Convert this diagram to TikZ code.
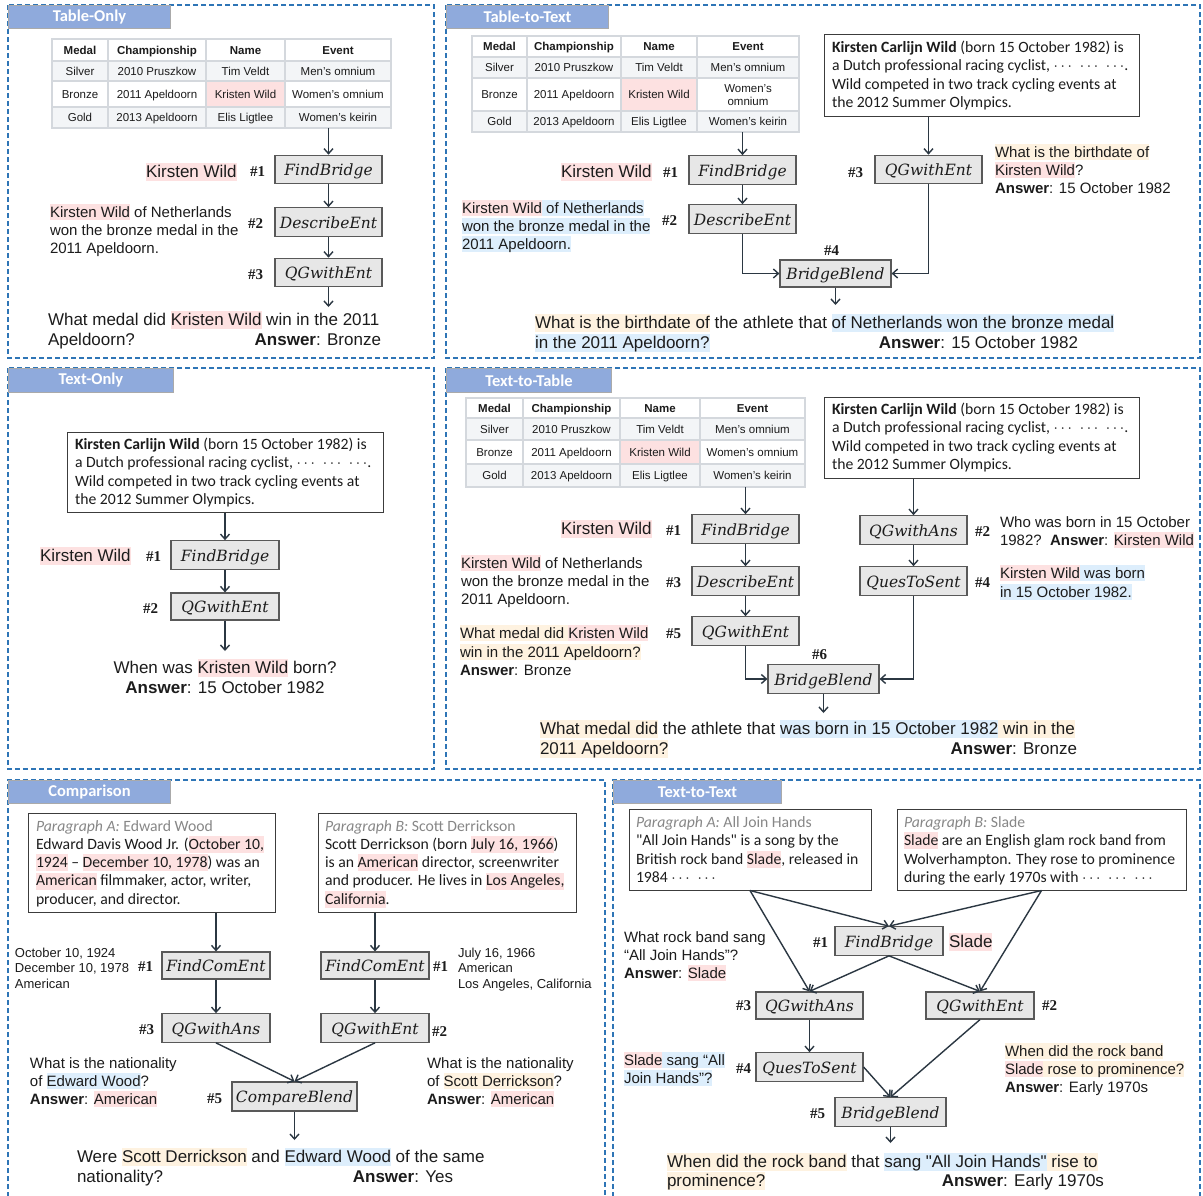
\RequirePackage{fix-cm}
\documentclass[tikz,border=0pt]{standalone}
\usepackage{fontspec}
\usetikzlibrary{arrows.meta}
\newfontfamily\arial{Liberation Sans}
\newfontfamily\calib{Carlito}
\newfontfamily\opfont{DejaVu Serif}
\newfontfamily\numfont{Liberation Serif}
\newcommand\FS[1]{\fontsize{#1}{#1}\selectfont}
\definecolor{framec}{RGB}{46,117,182}
\definecolor{tabc}{RGB}{143,170,220}
\definecolor{tabdraw}{RGB}{170,170,170}
\definecolor{opfill}{RGB}{231,231,231}
\definecolor{opdraw}{RGB}{89,89,89}
\definecolor{boxdraw}{RGB}{60,60,60}
\definecolor{arrowc}{RGB}{43,55,66}
\definecolor{gridc}{RGB}{212,216,221}
\definecolor{rowgray}{RGB}{243,245,247}
\definecolor{hlpink}{RGB}{253,225,225}
\definecolor{hlblue}{RGB}{221,238,252}
\definecolor{hlorange}{RGB}{254,242,224}
\definecolor{graytext}{RGB}{135,135,135}
\definecolor{textc}{RGB}{28,28,28}
\newcommand\HL[2]{\begingroup\setlength{\fboxsep}{0pt}\colorbox{#1}{\rule[-0.23em]{0pt}{1.08em}#2}\endgroup}
\newcommand\HLp[1]{\HL{hlpink}{#1}}
\newcommand\HLb[1]{\HL{hlblue}{#1}}
\newcommand\HLo[1]{\HL{hlorange}{#1}}
\newcommand\DOTS{$\cdots$\enspace$\cdots$\enspace$\cdots$}
\newcommand\Rows[5]{\def\RowA{#1}\def\RowB{#2}\def\RowC{#3}\def\RowD{#4}\def\RowE{#5}}
\newcommand\BronzeEvent{Women’s omnium}
\newcommand\Tbl[6]{%
\fill[rowgray] (#2,\RowB) rectangle (#6,\RowC);
\fill[rowgray] (#2,\RowD) rectangle (#6,\RowE);
\fill[hlpink] (#4,\RowC) rectangle (#5,\RowD);
\draw[gridline] (#2,\RowA) rectangle (#6,\RowE);
\draw[gridline] (#2,\RowB) -- (#6,\RowB) (#2,\RowC) -- (#6,\RowC) (#2,\RowD) -- (#6,\RowD)
  (#3,\RowA) -- (#3,\RowE) (#4,\RowA) -- (#4,\RowE) (#5,\RowA) -- (#5,\RowE);
\node[hcell] (#1h1) at ({(#2+#3)/2},{(\RowA+\RowB)/2+4}) {Medal};
\node[hcell] (#1h2) at ({(#3+#4)/2},{(\RowA+\RowB)/2+4}) {Championship};
\node[hcell] (#1h3) at ({(#4+#5)/2},{(\RowA+\RowB)/2+4}) {Name};
\node[hcell] (#1h4) at ({(#5+#6)/2},{(\RowA+\RowB)/2+4}) {Event};
\node[cell] (#1a1) at ({(#2+#3)/2},{(\RowB+\RowC)/2+4}) {Silver};
\node[cell] (#1a2) at ({(#3+#4)/2},{(\RowB+\RowC)/2+4}) {2010 Pruszkow};
\node[cell] (#1a3) at ({(#4+#5)/2},{(\RowB+\RowC)/2+4}) {Tim Veldt};
\node[cell] (#1a4) at ({(#5+#6)/2},{(\RowB+\RowC)/2+4}) {Men’s omnium};
\node[cell] (#1b1) at ({(#2+#3)/2},{(\RowC+\RowD)/2+4}) {Bronze};
\node[cell] (#1b2) at ({(#3+#4)/2},{(\RowC+\RowD)/2+4}) {2011 Apeldoorn};
\node[cell] (#1b3) at ({(#4+#5)/2},{(\RowC+\RowD)/2+4}) {Kristen Wild};
\node[cell] (#1b4) at ({(#5+#6)/2},{(\RowC+\RowD)/2+4}) {\BronzeEvent};
\node[cell] (#1c1) at ({(#2+#3)/2},{(\RowD+\RowE)/2+4}) {Gold};
\node[cell] (#1c2) at ({(#3+#4)/2},{(\RowD+\RowE)/2+4}) {2013 Apeldoorn};
\node[cell] (#1c3) at ({(#4+#5)/2},{(\RowD+\RowE)/2+4}) {Elis Ligtlee};
\node[cell] (#1c4) at ({(#5+#6)/2},{(\RowD+\RowE)/2+4}) {Women’s keirin};
}
\tikzset{
 txt/.style={inner sep=0pt, outer sep=0pt, anchor=base west, text=textc},
 qtext/.style={txt, font=\arial\FS{17}},
 side/.style={txt, font=\arial\FS{15}},
 smalltxt/.style={txt, font=\arial\FS{13}},
 paratxt/.style={txt, font=\calib\FS{15.7}},
 numlab/.style={txt, font=\numfont\bfseries\FS{15}},
 opbox/.style={draw=opdraw, fill=opfill, line width=1.2pt, minimum width=107pt, minimum height=28.5pt, inner sep=0pt, font=\opfont\itshape\FS{15.5}, text height=13pt, text depth=1pt, text=textc},
 parabox/.style={draw=boxdraw, line width=1pt, inner sep=0pt},
 frm/.style={draw=framec, line width=1.3pt, dash pattern=on 5pt off 3pt},
 tabbox/.style={fill=tabc, draw=tabdraw, line width=1pt, inner sep=0pt, anchor=north west, font=\calib\bfseries\FS{16.5}, text=white},
 arrw/.style={draw=arrowc, line width=1.4pt, -{Straight Barb[length=5pt,width=9pt]}},
 gridline/.style={draw=gridc, line width=1.3pt},
 cell/.style={inner sep=0pt, anchor=base, font=\arial\FS{11.5}, text=textc},
 hcell/.style={cell, font=\arial\bfseries\FS{11.5}},
}
\begin{document}
\begin{tikzpicture}[x=1pt,y=-1pt]
\path[use as bounding box] (0,0) rectangle (1203,1195);
\fill[white] (0,0) rectangle (1203,1195);
%================ Panel 1: Table-Only
\draw[frm] (8,5) rectangle (434,358);
\node[tabbox, minimum width=162pt, minimum height=23pt] (tab1) at (8,5) {Table-Only};
\Rows{39}{61}{81}{107}{128}
\Tbl{ta}{52}{108}{206}{285}{391}
\coordinate (ta-bot) at (328.5,128);
\node[opbox] (p1fb) at (328.5,169.5) {FindBridge};
\node[opbox] (p1de) at (328.5,222) {DescribeEnt};
\node[opbox] (p1qg) at (328.5,272.5) {QGwithEnt};
\coordinate (p1out) at (328.5,307);
\draw[arrw] (ta-bot) -- (p1fb.north);
\draw[arrw] (p1fb.south) -- (p1de.north);
\draw[arrw] (p1de.south) -- (p1qg.north);
\draw[arrw] (p1qg.south) -- (p1out);
\node[qtext] (p1kw) at (146,177) {\HLp{Kirsten Wild}};
\node[numlab] (p1n1) at (250,176) {\#1};
\node[numlab] (p1n2) at (248,228) {\#2};
\node[numlab] (p1n3) at (248,279) {\#3};
\node[side] (p1s1) at (50,217) {\HLp{Kirsten Wild} of Netherlands};
\node[side] (p1s2) at (50,235) {won the bronze medal in the};
\node[side] (p1s3) at (50,253) {2011 Apeldoorn.};
\node[qtext] (p1q1) at (48,325) {What medal did \HLp{Kristen Wild} win in the 2011};
\node[qtext] (p1q2) at (48,345) {Apeldoorn?};
\node[qtext, anchor=base east] (p1ans) at (381,345) {\textbf{Answer}: Bronze};
%================ Panel 2: Table-to-Text
\draw[frm] (446,5) rectangle (1200,358);
\node[tabbox, minimum width=162pt, minimum height=23pt] (tab2) at (446,5) {Table-to-Text};
\Rows{36}{57}{78}{111}{132}
\renewcommand\BronzeEvent{}
\Tbl{tb}{472}{527}{621}{697}{799}
\node[cell] (tb-ev1) at (748,92) {Women’s};
\node[cell] (tb-ev2) at (748,105) {omnium};
\renewcommand\BronzeEvent{Women’s omnium}
\coordinate (tb-bot) at (742.5,132);
\node[parabox, minimum width=315pt, minimum height=82pt] (p2box) at (981.5,75) {};
\node[paratxt] (p2b1) at (832,52) {\textbf{Kirsten Carlijn Wild} (born 15 October 1982) is};
\node[paratxt] (p2b2) at (832,70.5) {a Dutch professional racing cyclist, \DOTS.};
\node[paratxt] (p2b3) at (832,89) {Wild competed in two track cycling events at};
\node[paratxt] (p2b4) at (832,107.5) {the 2012 Summer Olympics.};
\node[opbox] (p2fb) at (742.5,170) {FindBridge};
\node[opbox] (p2de) at (742.5,219) {DescribeEnt};
\node[opbox] (p2qg) at (928.5,169.5) {QGwithEnt};
\node[opbox, minimum width=111pt, minimum height=27pt] (p2bb) at (835.5,273.5) {BridgeBlend};
\coordinate (p2out) at (835.5,305);
\draw[arrw] (tb-bot) -- (p2fb.north);
\draw[arrw] (p2fb.south) -- (p2de.north);
\draw[arrw] (p2de.south) |- (p2bb.west);
\draw[arrw] (p2qg.south) |- (p2bb.east);
\draw[arrw] (p2qg.north |- p2box.south) -- (p2qg.north);
\draw[arrw] (p2bb.south) -- (p2out);
\node[qtext] (p2kw) at (561,177) {\HLp{Kirsten Wild}};
\node[numlab] (p2n1) at (663,177) {\#1};
\node[numlab] (p2n2) at (662,225) {\#2};
\node[numlab] (p2n3) at (848,177) {\#3};
\node[numlab] (p2n4) at (824,255) {\#4};
\node[side] (p2s1) at (462,213) {\HLp{Kirsten Wild}\HLb{ of Netherlands}};
\node[side] (p2s2) at (462,231) {\HLb{won the bronze medal in the}};
\node[side] (p2s3) at (462,249) {\HLb{2011 Apeldoorn.}};
\node[side] (p2r1) at (995,157) {\HLo{What is the birthdate of}};
\node[side] (p2r2) at (995,175) {\HLp{Kirsten Wild}?};
\node[side] (p2r3) at (995,193) {\textbf{Answer}: 15 October 1982};
\node[qtext] (p2q1) at (535,328) {\HLo{What is the birthdate of} the athlete that \HLb{of Netherlands won the bronze medal}};
\node[qtext] (p2q2) at (535,348) {\HLb{in the 2011 Apeldoorn?}};
\node[qtext, anchor=base east] (p2ans) at (1078,348) {\textbf{Answer}: 15 October 1982};
%================ Panel 3: Text-Only
\draw[frm] (8,368) rectangle (434,769);
\node[tabbox, minimum width=165pt, minimum height=24pt] (tab3) at (8,368) {Text-Only};
\node[parabox, minimum width=316pt, minimum height=80pt] (p3box) at (225,472) {};
\node[paratxt] (p3b1) at (75,449) {\textbf{Kirsten Carlijn Wild} (born 15 October 1982) is};
\node[paratxt] (p3b2) at (75,467.5) {a Dutch professional racing cyclist, \DOTS.};
\node[paratxt] (p3b3) at (75,486) {Wild competed in two track cycling events at};
\node[paratxt] (p3b4) at (75,504.5) {the 2012 Summer Olympics.};
\node[opbox, minimum width=108pt] (p3fb) at (225,555) {FindBridge};
\node[opbox, minimum width=108pt, minimum height=27pt] (p3qg) at (225,606.5) {QGwithEnt};
\coordinate (p3out) at (225,651);
\draw[arrw] (p3box.south) -- (p3fb.north);
\draw[arrw] (p3fb.south) -- (p3qg.north);
\draw[arrw] (p3qg.south) -- (p3out);
\node[qtext] (p3kw) at (40,561) {\HLp{Kirsten Wild}};
\node[numlab] (p3n1) at (146,561) {\#1};
\node[numlab] (p3n2) at (143,613) {\#2};
\node[qtext, anchor=base] (p3q1) at (225,673) {When was \HLp{Kristen Wild} born?};
\node[qtext, anchor=base] (p3q2) at (225,693) {\textbf{Answer}: 15 October 1982};
%================ Panel 4: Text-to-Table
\draw[frm] (446,368) rectangle (1200,769);
\node[tabbox, minimum width=165pt, minimum height=24pt] (tab4) at (446,368) {Text-to-Table};
\Rows{398}{418}{440}{464}{487}
\Tbl{tc}{466}{523}{620}{700}{805}
\coordinate (tc-bot) at (745.5,487);
\node[parabox, minimum width=315pt, minimum height=81pt] (p4box) at (981.5,437.5) {};
\node[paratxt] (p4b1) at (832,414) {\textbf{Kirsten Carlijn Wild} (born 15 October 1982) is};
\node[paratxt] (p4b2) at (832,432.5) {a Dutch professional racing cyclist, \DOTS.};
\node[paratxt] (p4b3) at (832,451) {Wild competed in two track cycling events at};
\node[paratxt] (p4b4) at (832,469.5) {the 2012 Summer Olympics.};
\node[opbox] (p4fb) at (745.5,529) {FindBridge};
\node[opbox] (p4de) at (745.5,581) {DescribeEnt};
\node[opbox] (p4qg) at (745.5,631) {QGwithEnt};
\node[opbox, minimum width=111pt] (p4bb) at (823.5,679) {BridgeBlend};
\node[opbox] (p4qa) at (913.5,530) {QGwithAns};
\node[opbox] (p4qs) at (913.5,581) {QuesToSent};
\coordinate (p4out) at (823.5,713);
\draw[arrw] (tc-bot) -- (p4fb.north);
\draw[arrw] (p4fb.south) -- (p4de.north);
\draw[arrw] (p4de.south) -- (p4qg.north);
\draw[arrw] (p4qg.south) |- (p4bb.west);
\draw[arrw] (p4qs.south) |- (p4bb.east);
\draw[arrw] (p4qa.north |- p4box.south) -- (p4qa.north);
\draw[arrw] (p4qa.south) -- (p4qs.north);
\draw[arrw] (p4bb.south) -- (p4out);
\node[qtext] (p4kw) at (561,534) {\HLp{Kirsten Wild}};
\node[numlab] (p4n1) at (666,535) {\#1};
\node[numlab] (p4n3) at (666,587) {\#3};
\node[numlab] (p4n5) at (666,638) {\#5};
\node[numlab] (p4n6) at (812,659) {\#6};
\node[numlab] (p4n2) at (975,536) {\#2};
\node[numlab] (p4n4) at (975,587) {\#4};
\node[side] (p4s1) at (461,568) {\HLp{Kirsten Wild} of Netherlands};
\node[side] (p4s2) at (461,586) {won the bronze medal in the};
\node[side] (p4s3) at (461,604) {2011 Apeldoorn.};
\node[side] (p4s4) at (460,638) {\HLo{What medal did }\HLp{Kristen Wild}};
\node[side] (p4s5) at (460,657) {\HLo{win in the 2011 Apeldoorn?}};
\node[side] (p4s6) at (460,675) {\textbf{Answer}: Bronze};
\node[side] (p4r1) at (1000,527) {Who was born in 15 October};
\node[side] (p4r2) at (1000,545) {1982?\ \ \textbf{Answer}: \HLp{Kirsten Wild}};
\node[side] (p4r3) at (1000,578) {\HLp{Kirsten Wild}\HLb{ was born}};
\node[side] (p4r4) at (1000,597) {\HLb{in 15 October 1982.}};
\node[qtext] (p4q1) at (540,734) {\HLo{What medal did} the athlete that \HLb{was born in 15 October 1982}\HLo{ win in the}};
\node[qtext] (p4q2) at (540,754) {\HLo{2011 Apeldoorn?}};
\node[qtext, anchor=base east] (p4ans) at (1077,754) {\textbf{Answer}: Bronze};
%================ Panel 5: Comparison
\draw[frm] (8,1205) -- (8,780) -- (605,780) -- (605,1205);
\node[tabbox, minimum width=162pt, minimum height=23pt] (tab5) at (8,780) {Comparison};
\node[parabox, minimum width=247pt, minimum height=99pt] (p5pa) at (151.5,862.5) {};
\node[paratxt] (p5a1) at (36,831) {\color{graytext}\itshape Paragraph A:\upshape\ Edward Wood};
\node[paratxt] (p5a2) at (36,849.3) {Edward Davis Wood Jr. (\HLp{October 10,}};
\node[paratxt] (p5a3) at (36,867.6) {\HLp{1924} – \HLp{December 10, 1978}) was an};
\node[paratxt] (p5a4) at (36,885.9) {\HLp{American} filmmaker, actor, writer,};
\node[paratxt] (p5a5) at (36,904.2) {producer, and director.};
\node[parabox, minimum width=258pt, minimum height=99pt] (p5pb) at (447,862.5) {};
\node[paratxt] (p5b1) at (325,831) {\color{graytext}\itshape Paragraph B:\upshape\ Scott Derrickson};
\node[paratxt] (p5b2) at (325,849.3) {Scott Derrickson (born \HLp{July 16, 1966})};
\node[paratxt] (p5b3) at (325,867.6) {is an \HLp{American} director, screenwriter};
\node[paratxt] (p5b4) at (325,885.9) {and producer. He lives in \HLp{Los Angeles,}};
\node[paratxt] (p5b5) at (325,904.2) {\HLp{California}.};
\node[opbox, minimum width=108pt, minimum height=27pt] (p5fa) at (216,965.5) {FindComEnt};
\node[opbox, minimum width=108pt, minimum height=27pt] (p5fb) at (375,965.5) {FindComEnt};
\node[opbox, minimum width=108pt] (p5qa) at (216,1028) {QGwithAns};
\node[opbox, minimum width=108pt] (p5qe) at (375,1028) {QGwithEnt};
\node[opbox, minimum width=125pt, minimum height=29pt] (p5cb) at (294.5,1096.5) {CompareBlend};
\coordinate (p5out) at (294.5,1140);
\draw[arrw] (p5fa.north |- p5pa.south) -- (p5fa.north);
\draw[arrw] (p5fb.north |- p5pb.south) -- (p5fb.north);
\draw[arrw] (p5fa.south) -- (p5qa.north);
\draw[arrw] (p5fb.south) -- (p5qe.north);
\draw[arrw] (p5qa.south) -- (p5cb.north);
\draw[arrw] (p5qe.south) -- (p5cb.north);
\draw[arrw] (p5cb.south) -- (p5out);
\node[smalltxt] (p5l1) at (15,957) {October 10, 1924};
\node[smalltxt] (p5l2) at (15,972.5) {December 10, 1978};
\node[smalltxt] (p5l3) at (15,988) {American};
\node[smalltxt] (p5r1) at (458,957) {July 16, 1966};
\node[smalltxt] (p5r2) at (458,972.5) {American};
\node[smalltxt] (p5r3) at (458,988) {Los Angeles, California};
\node[numlab] (p5n1a) at (138,971) {\#1};
\node[numlab] (p5n1b) at (433,971) {\#1};
\node[numlab] (p5n3) at (139,1034) {\#3};
\node[numlab] (p5n2) at (432,1036) {\#2};
\node[numlab] (p5n5) at (207,1103) {\#5};
\node[side] (p5s1) at (30,1068) {What is the nationality};
\node[side] (p5s2) at (30,1086) {of \HLb{Edward Wood}?};
\node[side] (p5s3) at (30,1104) {\textbf{Answer}: \HLp{American}};
\node[side] (p5t1) at (427,1068) {What is the nationality};
\node[side] (p5t2) at (427,1086) {of \HLo{Scott Derrickson}?};
\node[side] (p5t3) at (427,1104) {\textbf{Answer}: \HLp{American}};
\node[qtext] (p5q1) at (77,1162) {Were \HLo{Scott Derrickson} and \HLb{Edward Wood} of the same};
\node[qtext] (p5q2) at (77,1182) {nationality?};
\node[qtext, anchor=base east] (p5ans) at (453,1182) {\textbf{Answer}: Yes};
%================ Panel 6: Text-to-Text
\draw[frm] (613,1205) -- (613,780) -- (1200,780) -- (1200,1205);
\node[tabbox, minimum width=168pt, minimum height=23pt] (tab6) at (613,780) {Text-to-Text};
\node[parabox, minimum width=242pt, minimum height=81pt] (p6pa) at (750,849.5) {};
\node[paratxt] (p6a1) at (636,827) {\color{graytext}\itshape Paragraph A:\upshape\ All Join Hands};
\node[paratxt] (p6a2) at (636,845.5) {"All Join Hands" is a song by the};
\node[paratxt] (p6a3) at (636,864) {British rock band \HLp{Slade}, released in};
\node[paratxt] (p6a4) at (636,882.5) {1984 $\cdots$\enspace$\cdots$};
\node[parabox, minimum width=289pt, minimum height=81pt] (p6pb) at (1041.5,849.5) {};
\node[paratxt] (p6b1) at (904,827) {\color{graytext}\itshape Paragraph B:\upshape\ Slade};
\node[paratxt] (p6b2) at (904,845.5) {\HLp{Slade} are an English glam rock band from};
\node[paratxt] (p6b3) at (904,864) {Wolverhampton. They rose to prominence};
\node[paratxt] (p6b4) at (904,882.5) {during the early 1970s with \DOTS};
\node[opbox, minimum width=108pt] (p6fb) at (889,941) {FindBridge};
\node[opbox, minimum height=27pt] (p6qa) at (809.5,1005.5) {QGwithAns};
\node[opbox, minimum width=108pt, minimum height=27pt] (p6qe) at (980,1005.5) {QGwithEnt};
\node[opbox] (p6qs) at (809.5,1067) {QuesToSent};
\node[opbox, minimum width=111pt] (p6bb) at (890.5,1112) {BridgeBlend};
\coordinate (p6out) at (890.5,1143);
\draw[arrw] (p6pa.south) -- (p6fb.north);
\draw[arrw] (p6pa.south) -- (p6qa.north);
\draw[arrw] (p6pb.south) -- (p6fb.north);
\draw[arrw] (p6pb.south) -- (p6qe.north);
\draw[arrw] (p6fb.south) -- (p6qa.north);
\draw[arrw] (p6fb.south) -- (p6qe.north);
\draw[arrw] (p6qa.south) -- (p6qs.north);
\draw[arrw] (p6qs.east) -- (p6bb.north);
\draw[arrw] (p6qe.south) -- (p6bb.north);
\draw[arrw] (p6bb.south) -- (p6out);
\node[numlab] (p6n1) at (813,947) {\#1};
\node[qtext] (p6sl) at (949,947) {\HLp{Slade}};
\node[numlab] (p6n3) at (736,1010) {\#3};
\node[numlab] (p6n2) at (1042,1010) {\#2};
\node[numlab] (p6n4) at (736,1073) {\#4};
\node[numlab] (p6n5) at (810,1118) {\#5};
\node[side] (p6s1) at (624,942) {What rock band sang};
\node[side] (p6s2) at (624,960) {“All Join Hands”?};
\node[side] (p6s3) at (624,978) {\textbf{Answer}: \HLp{Slade}};
\node[side] (p6s4) at (624,1065) {\HLp{Slade}\HLb{ sang “All}};
\node[side] (p6s5) at (624,1083) {\HLb{Join Hands”?}};
\node[side] (p6r1) at (1005,1056) {\HLo{When did the rock band}};
\node[side] (p6r2) at (1005,1074) {\HLp{Slade}\HLo{ rose to prominence?}};
\node[side] (p6r3) at (1005,1092) {\textbf{Answer}: Early 1970s};
\node[qtext] (p6q1) at (667,1167) {\HLo{When did the rock band} that \HLb{sang "All Join Hands"}\HLo{ rise to}};
\node[qtext] (p6q2) at (667,1186) {\HLo{prominence?}};
\node[qtext, anchor=base east] (p6ans) at (1104,1186) {\textbf{Answer}: Early 1970s};
\end{tikzpicture}
\end{document}
